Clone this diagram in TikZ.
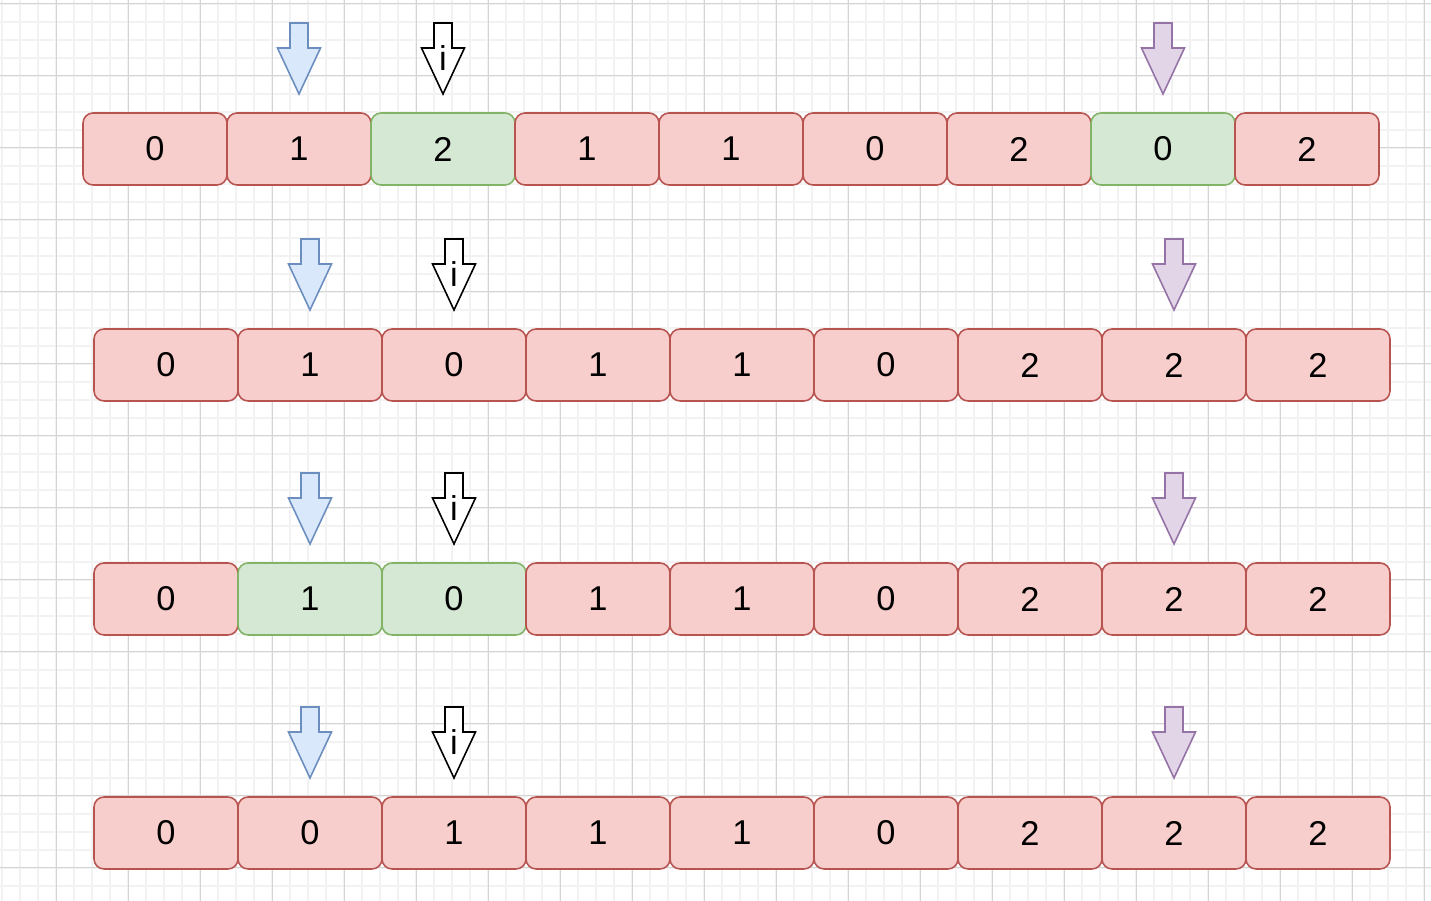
\documentclass[tikz,border=0pt]{standalone}
\usepackage{fontspec}
\setmainfont{Liberation Sans}
\usetikzlibrary{positioning}

\definecolor{redfill}{HTML}{F8CECC}
\definecolor{redline}{HTML}{B85450}
\definecolor{greenfill}{HTML}{D5E8D4}
\definecolor{greenline}{HTML}{82B366}
\definecolor{bluefill}{HTML}{DAE8FC}
\definecolor{blueline}{HTML}{6C8EBF}
\definecolor{purplefill}{HTML}{E1D5E7}
\definecolor{purpleline}{HTML}{9673A6}
\definecolor{minorgrid}{HTML}{F2F2F2}
\definecolor{majorgrid}{HTML}{D4D4D4}

\tikzset{
  cell/.style={draw=redline, fill=redfill, rounded corners=0.2cm, line width=0.9pt,
    minimum width=2.88cm, minimum height=1.44cm, inner sep=0pt},
  hit/.style={draw=greenline, fill=greenfill},
  pointer/.pic={\path[pic actions] (-9,0) -- (9,0) -- (9,25) -- (21.5,25) -- (0,71)
    -- (-21.5,25) -- (-9,25) -- cycle;},
}

\begin{document}
\begin{tikzpicture}[x=0.02cm, y=-0.02cm, font=\fontsize{19.6}{24}\selectfont]
\useasboundingbox[fill=white] (0,0) rectangle (1431,901);
% background grid
\foreach \gx in {2,20,...,1430} \draw[minorgrid, line width=0.03cm] (\gx,0) -- (\gx,901);
\foreach \gy in {4,22,...,900} \draw[minorgrid, line width=0.03cm] (0,\gy) -- (1431,\gy);
\foreach \gx in {56,128,...,1424} \draw[majorgrid, line width=0.02cm] (\gx,0) -- (\gx,901);
\foreach \gy in {4,76,...,868} \draw[majorgrid, line width=0.02cm] (0,\gy) -- (1431,\gy);

% pointers above each row
\foreach \dx/\top [count=\r] in {0/23, 11/239, 11/473, 11/707} {
  \pic (lo\r) [draw=blueline, fill=bluefill, line width=0.9pt] at (299+\dx,\top) {pointer};
  \pic (cur\r) [draw=black, fill=white, line width=0.9pt] at (443+\dx,\top) {pointer};
  \node (i\r) at (443+\dx,\top+35) {i};
  \pic (hi\r) [draw=purpleline, fill=purplefill, line width=0.9pt] at (1163+\dx,\top) {pointer};
}

% array rows
\foreach \v/\s [count=\k] in {0/cell,1/cell,2/hit,1/cell,1/cell,0/cell,2/cell,0/hit,2/cell}
  \node[cell,\s] (a\k) at (11+144*\k,149) {\v};
\foreach \v/\s [count=\k] in {0/cell,1/cell,0/cell,1/cell,1/cell,0/cell,2/cell,2/cell,2/cell}
  \node[cell,\s] (b\k) at (22+144*\k,365) {\v};
\foreach \v/\s [count=\k] in {0/cell,1/hit,0/hit,1/cell,1/cell,0/cell,2/cell,2/cell,2/cell}
  \node[cell,\s] (c\k) at (22+144*\k,599) {\v};
\foreach \v/\s [count=\k] in {0/cell,0/cell,1/cell,1/cell,1/cell,0/cell,2/cell,2/cell,2/cell}
  \node[cell,\s] (d\k) at (22+144*\k,833) {\v};
\end{tikzpicture}
\end{document}
